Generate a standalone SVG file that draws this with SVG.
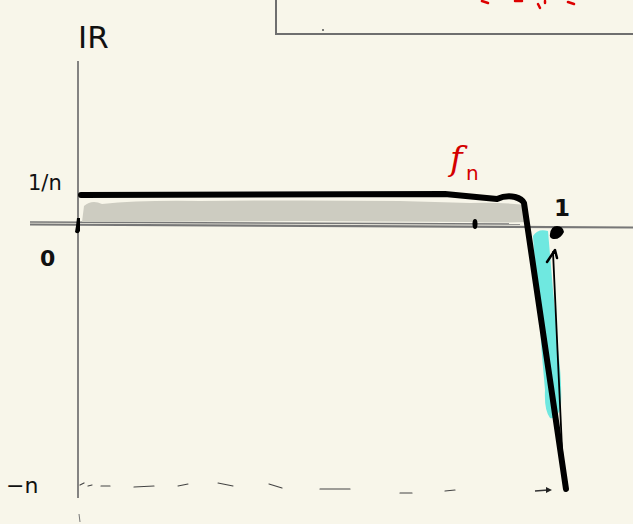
<svg xmlns="http://www.w3.org/2000/svg" width="633" height="524" viewBox="0 0 633 524">
<style>
.lbl{font-family:"DejaVu Sans","Liberation Sans",sans-serif;fill:#111}
.ax{stroke:#777;fill:none}
.ink{stroke:#000;fill:none;stroke-linecap:round;stroke-linejoin:round}
.red{stroke:#d00;fill:none;stroke-linecap:round;stroke-width:2.5}
</style>
<rect width="633" height="524" fill="#f8f6ea"/>
<g id="box">
<path d="M276 0 V34 H633" stroke="#6f6f6f" stroke-width="2" fill="none"/>
<circle cx="323" cy="30" r="1" fill="#555"/>
<path class="red" d="M482 1 L488 3 M515 1 L522 1 M538 4 L540 8 M545 1 L545 3 M568 2 L574 4"/>
</g>
<g id="axes">
<path class="ax" d="M78 61 V498" stroke-width="1.8"/>
<path class="ax" d="M79 514 L80 522" stroke-width="1"/>
<path class="ax" d="M30 222 L520 224" stroke-width="1.5"/>
<path class="ax" d="M30 224.5 L633 227.5" stroke-width="2.2"/>
</g>
<g id="band">
<path d="M82 222 L84 206 Q92 199 102 204 Q140 200 200 201 Q300 200 400 201 L470 203 Q500 202 527 205 L527 222 Q500 223 470 222 L300 221 L82 222 Z" fill="#cdccc1"/>
</g>
<g id="cyan">
<path d="M533 236 Q538 228 548 231 L553 290 Q557 330 558 350 Q562 380 561 405 Q558 420 550 418 Q544 410 545 390 Q541 350 539 310 Q536 280 533 236 Z" fill="#6fe8e0"/>
</g>
<g id="curve">
<path class="ink" d="M81 195 L445 194 L497 199 Q506 195 515 197 Q522 199 524 203 L566 489" stroke-width="6"/>
<path class="ink" d="M553 252 L563 470" stroke-width="1.8"/>
<path class="ink" d="M547 262 L555 250 L557 258" stroke-width="2.5"/>
<path d="M550 234 Q551 226 557 226 Q563 226 564 232 Q560 240 553 239 Q549 238 550 234 Z" fill="#000"/>
<ellipse cx="475" cy="224" rx="2.5" ry="5" fill="#000"/>
<path d="M77 218 L80 218 L80 231 Q78 235 75 232 L76 226 Z" fill="#000"/>
</g>
<g id="dashed">
<path d="M80 485 L84 483 M88 486 L92 485 M101 486 L110 486 M134 487 L154 486 M178 486 L188 484 M218 483 L233 486 M269 484 L282 488 M320 489 L350 489 M400 493 L412 493 M445 491 L455 490" stroke="#444" stroke-width="1.2" fill="none" stroke-linecap="round"/>
<path d="M535 491 L548 490" stroke="#333" stroke-width="1.5"/>
<path d="M546 487 L552 490 L546 493 Z" fill="#222"/>
</g>
<g id="labels">
<text class="lbl" x="78" y="48" font-size="31">IR</text>
<text class="lbl" x="28" y="190" font-size="21">1/n</text>
<text class="lbl" x="40" y="266" font-size="22" font-weight="bold">0</text>
<text class="lbl" x="554" y="216" font-size="23" font-weight="bold">1</text>
<text class="lbl" x="6" y="493" font-size="22">−n</text>
<text x="450" y="170" font-size="34" font-style="italic" fill="#d40000" font-family="DejaVu Serif,serif">f</text>
<text x="466" y="180" font-size="20" fill="#d40000" font-family="DejaVu Sans,sans-serif">n</text>
</g>
</svg>
